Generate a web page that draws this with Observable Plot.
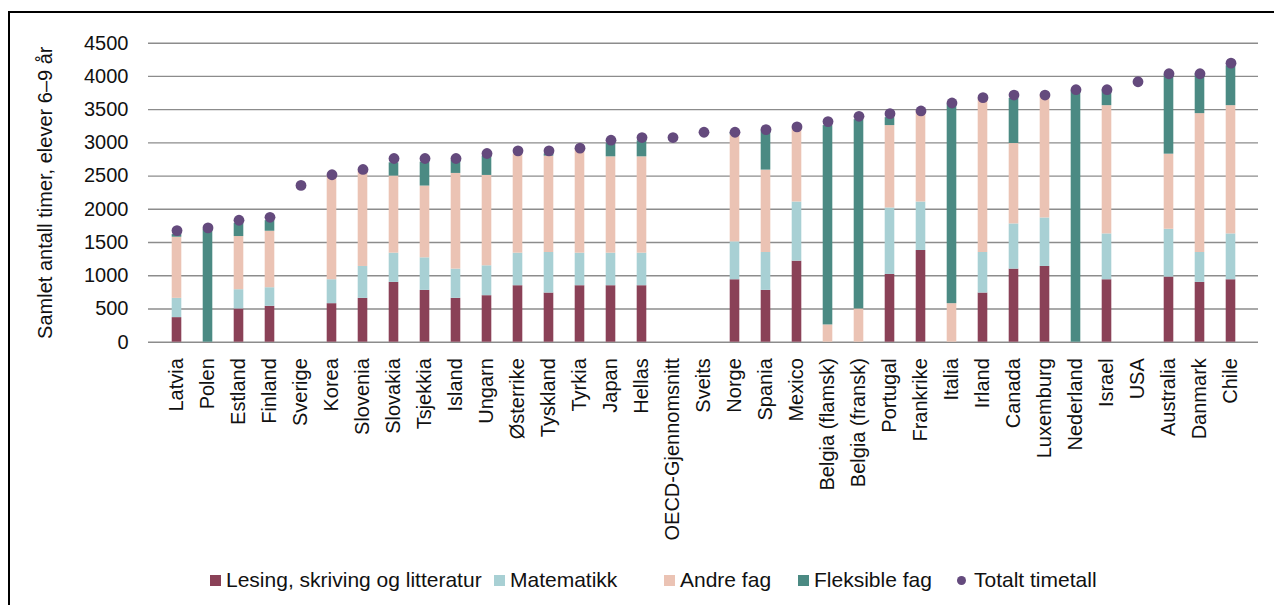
<!DOCTYPE html>
<html>
<head>
<meta charset="utf-8">
<script src="https://cdn.jsdelivr.net/npm/d3@7"></script>
<script src="https://cdn.jsdelivr.net/npm/@observablehq/plot@0.6"></script>
<style>
  html, body { margin: 0; padding: 0; background: #fff; }
  body { width: 1274px; height: 605px; position: relative; overflow: hidden; font-family: "Liberation Sans", Arial, sans-serif; }
  #frame { position: absolute; left: 8px; top: 11px; right: 0; bottom: 0; border-left: 2px solid #000; border-top: 2px solid #000; }
  #chart { position: absolute; left: 10px; top: 13px; }
  #legend { position: absolute; left: 0; top: 567px; width: 1274px; height: 26px; font-size: 21px; color: #111; }
  .item { position: absolute; top: 0; display: flex; align-items: center; height: 26px; white-space: nowrap; }
  .sw { width: 11px; height: 11px; margin-right: 5px; }
  .dotsw { width: 9px; height: 9px; border-radius: 50%; margin-right: 8px; }
</style>
</head>
<body>
<div id="frame"></div>
<div id="chart"></div>
<div id="legend"></div>
<script>
const countries = ["Latvia","Polen","Estland","Finland","Sverige","Korea","Slovenia","Slovakia","Tsjekkia","Island","Ungarn","Østerrike","Tyskland","Tyrkia","Japan","Hellas","OECD-Gjennomsnitt","Sveits","Norge","Spania","Mexico","Belgia (flamsk)","Belgia (fransk)","Portugal","Frankrike","Italia","Irland","Canada","Luxemburg","Nederland","Israel","USA","Australia","Danmark","Chile"];
const lesing     = [370,0,500,540,null,580,660,900,780,660,700,850,740,850,850,850,null,null,940,780,1220,0,0,1020,1380,0,740,1100,1140,0,940,null,980,900,940];
const matematikk = [290,0,290,280,null,360,480,440,490,440,450,490,610,490,490,490,null,null,570,570,890,0,0,1000,730,0,610,680,730,0,690,null,720,450,690];
const andreFag   = [920,0,800,850,null,1570,1440,1160,1080,1440,1360,1490,1450,1570,1450,1450,null,null,1610,1240,1120,260,500,1240,1370,580,2330,1210,1850,0,1930,null,1130,2090,1930];
const fleksible  = [40,1700,200,160,null,0,0,200,360,200,290,0,35,0,200,240,null,null,35,600,0,3000,2850,120,0,3010,0,680,0,3790,240,null,1200,600,600];
const totalt     = [1680,1720,1835,1880,2360,2520,2600,2765,2765,2765,2840,2880,2880,2920,3040,3080,3080,3160,3160,3200,3240,3320,3400,3440,3480,3600,3680,3720,3720,3800,3800,3920,4040,4040,4200];
const series = ["Lesing, skriving og litteratur","Matematikk","Andre fag","Fleksible fag"];
const seriesColors = ["#8a4157","#a8d0d4","#ebc3b4","#4b8a83"];
const totalLabel = "Totalt timetall";
const totalColor = "#644a7d";
const yTicks = [0,500,1000,1500,2000,2500,3000,3500,4000,4500];
const yTitle = "Samlet antall timer, elever 6–9 år";

const seriesArrays = [lesing, matematikk, andreFag, fleksible];
const rows = countries.flatMap((c, i) => seriesArrays.map((arr, k) => ({country: c, serie: series[k], value: arr[i]})))
  .filter(d => d.value != null && d.value > 0);
const totals = countries.map((c, i) => ({country: c, total: totalt[i]}));

const plot = Plot.plot({
  width: 1264,
  height: 540,
  marginLeft: 138,
  marginRight: 16,
  marginTop: 29.7,
  marginBottom: 211.3,
  style: {background: "transparent", fontFamily: "'Liberation Sans', Arial, sans-serif", fontSize: "20px", color: "#111"},
  x: {domain: countries, padding: 0, label: null, tickRotate: -90, tickSize: 0, tickPadding: 16},
  y: {domain: [0, 4500], ticks: yTicks, tickSize: 0, tickPadding: 20, label: null, tickFormat: d => String(d)},
  color: {domain: series, range: seriesColors},
  marks: [
    Plot.ruleY(yTicks, {stroke: "#8c8c8c", strokeWidth: 1.4}),
    Plot.barY(rows, {x: "country", y: "value", fill: "serie", order: series, insetLeft: 10.7, insetRight: 10.7}),
    Plot.dot(totals, {x: "country", y: "total", r: 5.4, fill: totalColor}),
    Plot.text([yTitle], {text: d => d, frameAnchor: "left", textAnchor: "middle", rotate: -90, dx: -103, fontSize: 20, fill: "#111"})
  ]
});
document.getElementById("chart").appendChild(plot);

const legend = document.getElementById("legend");
const lefts = [210, 494, 664, 798, 957];
series.forEach((s, k) => {
  const it = document.createElement("div");
  it.className = "item";
  it.style.left = lefts[k] + "px";
  it.innerHTML = `<span class="sw" style="background:${seriesColors[k]}"></span><span>${s}</span>`;
  legend.appendChild(it);
});
const it = document.createElement("div");
it.className = "item";
it.style.left = lefts[4] + "px";
it.innerHTML = `<span class="dotsw" style="background:${totalColor}"></span><span>${totalLabel}</span>`;
legend.appendChild(it);
</script>
</body>
</html>
